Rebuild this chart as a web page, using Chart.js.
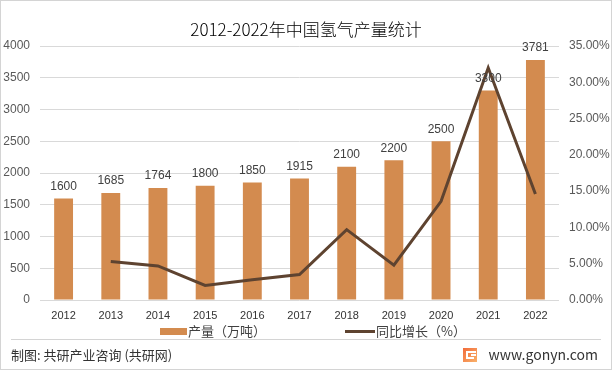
<!DOCTYPE html>
<html>
<head>
<meta charset="utf-8">
<script src="https://cdn.jsdelivr.net/npm/chart.js@4"></script>
<style>
  html, body { margin: 0; padding: 0; background: #fff; }
  #wrap { position: relative; width: 612px; height: 370px; box-sizing: border-box; border: 1px solid #d4d4d4; }
  #c { position: absolute; left: 0; top: 0; }
</style>
</head>
<body>
<div id="wrap"><canvas id="c" width="610" height="368"></canvas></div>
<script>
const years = ['2012', '2013', '2014', '2015', '2016', '2017', '2018', '2019', '2020', '2021', '2022'];
const output = [1600, 1685, 1764, 1800, 1850, 1915, 2100, 2200, 2500, 3300, 3781];
const growth = [null, 5.3, 4.7, 2.0, 2.8, 3.5, 9.7, 4.8, 13.6, 32.0, 14.6];
const leftTicks = [0, 500, 1000, 1500, 2000, 2500, 3000, 3500, 4000];
const rightTicks = [0, 5, 10, 15, 20, 25, 30, 35];

const titleText = '2012-2022年中国氢气产量统计';
const barName = '产量（万吨）';
const lineName = '同比增长（%）';
const sourceText = '制图: 共研产业咨询 (共研网)';
const siteText = 'www.gonyn.com';

const barColor = '#D38B4F';
const lineColor = '#5E4330';
const fontFam = '"Noto Sans CJK SC", "Noto Sans", sans-serif';
const tickFam = '"Liberation Sans", "DejaVu Sans", sans-serif';

// 柱子上的数值、标题、图例、底部文字
const extras = {
    id: 'extras',
    afterDatasetsDraw(chart) {
        const c = chart.ctx;
        const meta = chart.getDatasetMeta(0);
        c.save();
        c.fillStyle = '#404040';
        c.font = '12px ' + tickFam;
        c.textAlign = 'center';
        c.textBaseline = 'bottom';
        meta.data.forEach((bar, i) => {
            c.fillText(String(output[i]), bar.x, bar.y - 6);
        });
        c.restore();
    },
    afterDraw(chart) {
        const c = chart.ctx;
        c.save();
        // title
        c.fillStyle = '#000';
        c.font = '300 17px ' + fontFam;
        c.textAlign = 'center';
        c.textBaseline = 'middle';
        c.fillText(titleText, 305, 29);

        // legend
        c.font = '13px ' + fontFam;
        c.textAlign = 'left';
        c.fillStyle = barColor;
        c.fillRect(159, 327, 27, 7);
        c.fillStyle = '#404040';
        c.fillText(barName, 187, 330);
        c.strokeStyle = lineColor;
        c.lineWidth = 3;
        c.beginPath();
        c.moveTo(344, 330.5);
        c.lineTo(374, 330.5);
        c.stroke();
        c.fillText(lineName, 375, 330);

        // footer line
        c.strokeStyle = '#d4d4d4';
        c.lineWidth = 1;
        c.beginPath();
        c.moveTo(10, 338.5);
        c.lineTo(600, 338.5);
        c.stroke();

        c.fillStyle = '#333';
        c.font = '13px ' + fontFam;
        c.fillText(sourceText, 10, 354);
        c.font = '14px ' + fontFam;
        c.textAlign = 'right';
        c.fillText(siteText, 597, 354);

        // logo
        const g = c.createLinearGradient(462, 347, 476, 361);
        g.addColorStop(0, '#F26B3A');
        g.addColorStop(1, '#F9B26B');
        c.fillStyle = g;
        c.fillRect(462, 347, 14, 14);
        c.fillStyle = '#fff';
        c.fillRect(465, 350, 10, 2);
        c.fillRect(465, 350, 2, 8);
        c.fillRect(465, 356, 8, 2);
        c.fillRect(470, 353, 5, 2);
        c.restore();
    }
};

new Chart(document.getElementById('c'), {
    data: {
        labels: years,
        datasets: [
            {
                type: 'bar',
                label: barName,
                data: output,
                backgroundColor: barColor,
                borderWidth: 0,
                barPercentage: 0.8,
                categoryPercentage: 0.5,
                yAxisID: 'y',
                order: 2
            },
            {
                type: 'line',
                label: lineName,
                data: growth,
                borderColor: lineColor,
                backgroundColor: lineColor,
                borderWidth: 3,
                pointRadius: 0,
                tension: 0,
                yAxisID: 'y1',
                order: 1
            }
        ]
    },
    options: {
        responsive: false,
        animation: false,
        layout: { padding: { top: 45, bottom: 0, left: 0, right: 0 } },
        plugins: {
            legend: { display: false },
            title: { display: false },
            tooltip: { enabled: false }
        },
        scales: {
            x: {
                grid: { display: false },
                border: { display: false },
                ticks: { color: '#333', font: { size: 11, family: tickFam }, padding: 1, maxRotation: 0 },
                afterFit: (s) => { s.height = 69; }
            },
            y: {
                position: 'left',
                min: 0,
                max: 4000,
                afterBuildTicks: (s) => { s.ticks = leftTicks.map(v => ({ value: v })); },
                grid: { color: '#d9d9d9', drawTicks: false },
                border: { display: false },
                ticks: {
                    color: '#595959',
                    font: { size: 12, family: tickFam },
                    padding: 10,
                    callback: (v) => String(v)
                },
                afterFit: (s) => { s.width = 39; }
            },
            y1: {
                position: 'right',
                min: 0,
                max: 35,
                afterBuildTicks: (s) => { s.ticks = rightTicks.map(v => ({ value: v })); },
                grid: { drawOnChartArea: false, drawTicks: false },
                border: { display: false },
                ticks: {
                    color: '#595959',
                    font: { size: 12, family: tickFam },
                    padding: 10,
                    callback: (v) => v.toFixed(2) + '%'
                },
                afterFit: (s) => { s.width = 52; }
            }
        }
    },
    plugins: [extras]
});
</script>
</body>
</html>
